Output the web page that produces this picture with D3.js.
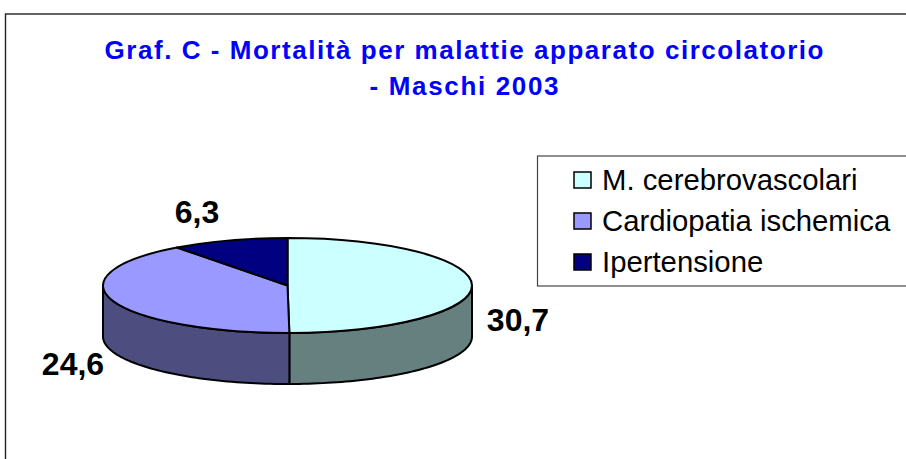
<!DOCTYPE html>
<html>
<head>
<meta charset="utf-8">
<script src="https://cdn.jsdelivr.net/npm/d3@7"></script>
<style>
  html, body { margin: 0; padding: 0; background: #fff; overflow: hidden; }
  text { font-family: "Liberation Sans", Arial, sans-serif; }
</style>
</head>
<body>
<div id="chart"></div>
<script>
const categories = ['M. cerebrovascolari', 'Cardiopatia ischemica', 'Ipertensione'];
const values = [30.7, 24.6, 6.3];
const valueLabels = ['30,7', '24,6', '6,3'];
const topColors = ['#ccffff', '#9999ff', '#000080'];
const sideColors = ['#66807f', '#4d4d7f', '#000040'];
const titleLines = ['Graf. C - Mortalità per malattie apparato circolatorio', '- Maschi 2003'];

const width = 906, height = 459;
const cx = 287.5, cy = 285.5, rx = 184.5, ry = 47.5, depth = 51;

const svg = d3.select('#chart').append('svg')
    .attr('width', width)
    .attr('height', height);

// frame, right and bottom edges fall outside the picture
svg.append('rect')
    .attr('x', 5.5).attr('y', 14)
    .attr('width', width + 20).attr('height', height + 20)
    .attr('fill', '#fff')
    .attr('stroke', '#222')
    .attr('stroke-width', 1.4);

svg.append('g').selectAll('text')
    .data(titleLines)
    .join('text')
    .attr('x', 464)
    .attr('y', (d, i) => 59 + i * 36)
    .attr('text-anchor', 'middle')
    .attr('font-size', 26)
    .attr('font-weight', 'bold')
    .attr('fill', '#0000ff')
    .attr('textLength', (d, i) => i === 0 ? 719 : 189)
    .text(d => d);

const pie = d3.pie().sort(null).startAngle(0).endAngle(2 * Math.PI);
const slices = pie(values);

// a pie angle runs clockwise from the top of the flattened disc
const px = a => cx + rx * Math.sin(a);
const py = a => cy - ry * Math.cos(a);

const gPie = svg.append('g');

// side wall, only the front half of the disc (90 to 270 degrees) shows
slices.forEach((s, i) => {
    const a0 = Math.max(s.startAngle, Math.PI / 2);
    const a1 = Math.min(s.endAngle, 3 * Math.PI / 2);
    if (a1 <= a0) return;
    const p = d3.path();
    p.moveTo(px(a0), py(a0));
    p.lineTo(px(a0), py(a0) + depth);
    const n = 60;
    for (let k = 1; k <= n; k++) {
        const a = a0 + (a1 - a0) * k / n;
        p.lineTo(px(a), py(a) + depth);
    }
    p.lineTo(px(a1), py(a1));
    for (let k = n - 1; k >= 0; k--) {
        const a = a0 + (a1 - a0) * k / n;
        p.lineTo(px(a), py(a));
    }
    p.closePath();
    gPie.append('path')
        .attr('d', p.toString())
        .attr('fill', sideColors[i])
        .attr('stroke', '#000')
        .attr('stroke-width', 2)
        .attr('stroke-linejoin', 'round');
});

// top of the disc, a circle arc squeezed into an ellipse
const arc = d3.arc().innerRadius(0).outerRadius(rx);
gPie.append('g')
    .attr('transform', `translate(${cx},${cy}) scale(1,${ry / rx})`)
    .selectAll('path')
    .data(slices)
    .join('path')
    .attr('d', arc)
    .attr('fill', (d, i) => topColors[i])
    .attr('stroke', '#000')
    .attr('stroke-width', 2)
    .attr('stroke-linejoin', 'round')
    .attr('vector-effect', 'non-scaling-stroke');

const labelPos = [[518, 331], [73, 375], [197, 223]];
svg.append('g').selectAll('text')
    .data(valueLabels)
    .join('text')
    .attr('x', (d, i) => labelPos[i][0])
    .attr('y', (d, i) => labelPos[i][1])
    .attr('text-anchor', 'middle')
    .attr('font-size', 32)
    .attr('font-weight', 'bold')
    .attr('fill', '#000')
    .text(d => d);

// legend
svg.append('rect')
    .attr('x', 537.5).attr('y', 156)
    .attr('width', 380).attr('height', 130)
    .attr('fill', '#fff')
    .attr('stroke', '#444')
    .attr('stroke-width', 1.2);

const legendY = d3.scalePoint().domain(categories).range([180, 262]);

const legend = svg.append('g').selectAll('g')
    .data(categories)
    .join('g')
    .attr('transform', d => `translate(0,${legendY(d)})`);

legend.append('rect')
    .attr('x', 574).attr('y', -8)
    .attr('width', 17).attr('height', 16)
    .attr('fill', (d, i) => topColors[i])
    .attr('stroke', '#000')
    .attr('stroke-width', 1.5);

legend.append('text')
    .attr('x', 602)
    .attr('y', 10)
    .attr('font-size', 29.3)
    .attr('fill', '#000')
    .text(d => d);
</script>
</body>
</html>
